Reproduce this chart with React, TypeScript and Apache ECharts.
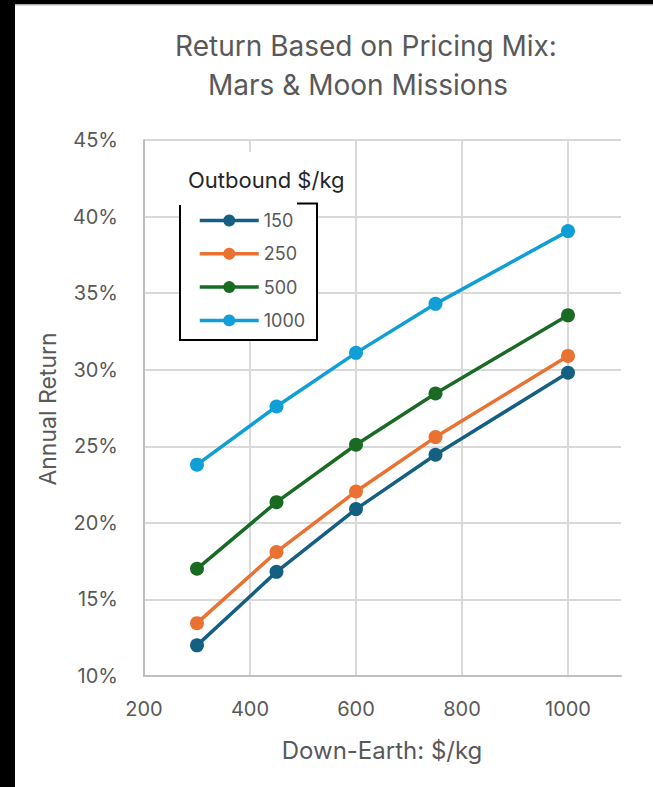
import { useEffect, useRef } from 'react';
import * as echarts from 'echarts';

// Down-Earth price ($/kg) on the x axis
const downEarth = [300, 450, 600, 750, 1000];
// Outbound price ($/kg) series names
const outboundLabels = ['150', '250', '500', '1000'];
// Annual return (%) for each outbound price
const return150 = [12.0, 16.8, 20.9, 24.45, 29.8];
const return250 = [13.45, 18.1, 22.05, 25.6, 30.9];
const return500 = [17.0, 21.35, 25.1, 28.45, 33.55];
const return1000 = [23.8, 27.6, 31.1, 34.3, 39.05];
const seriesValues = [return150, return250, return500, return1000];
// tick labels
const xTickLabels = [200, 400, 600, 800, 1000];
const yTickLabels = [10, 15, 20, 25, 30, 35, 40, 45];

const seriesColors = ['#156082', '#E97132', '#196B24', '#0F9ED5'];
const FONT = 'Inter, "Open Sans", sans-serif';
const GRAY = '#595959';

export default function App() {
  const ref = useRef<HTMLDivElement>(null);

  useEffect(() => {
    if (!ref.current) return;
    const chart = echarts.init(ref.current, undefined, { renderer: 'svg' });

    const series = outboundLabels.map((name, si) => ({
      name,
      type: 'line',
      data: downEarth.map((x, i) => [x, seriesValues[si][i]]),
      symbol: 'circle',
      symbolSize: 14,
      showSymbol: true,
      lineStyle: { width: 3.5, color: seriesColors[si] },
      itemStyle: { color: seriesColors[si] },
      z: 3,
    }));

    chart.setOption({
      animation: false,
      backgroundColor: '#ffffff',
      grid: { left: 144, right: 32, top: 140, bottom: 111 },
      xAxis: {
        type: 'value',
        min: 200,
        max: 1100,
        interval: 200,
        axisLine: { show: true, lineStyle: { color: '#bfbfbf', width: 2 } },
        axisTick: { show: false },
        splitLine: { show: true, showMaxLine: false, lineStyle: { color: '#d9d9d9', width: 2 } },
        axisLabel: {
          formatter: (v: number) => (xTickLabels.includes(v) ? String(v) : ''),
          showMaxLabel: false,
          fontSize: 20,
          color: GRAY,
          fontFamily: FONT,
          margin: 23,
        },
      },
      yAxis: {
        type: 'value',
        min: 10,
        max: 45,
        interval: 5,
        axisLine: { show: true, lineStyle: { color: '#bfbfbf', width: 2 } },
        axisTick: { show: false },
        splitLine: { show: true, lineStyle: { color: '#d9d9d9', width: 2 } },
        axisLabel: {
          formatter: (v: number) => (yTickLabels.includes(v) ? `${v}%` : ''),
          fontSize: 20,
          color: GRAY,
          fontFamily: FONT,
          margin: 26,
        },
      },
      legend: {
        data: outboundLabels,
        orient: 'vertical',
        left: 198,
        top: 211.5,
        itemWidth: 59,
        itemHeight: 15,
        itemGap: 15.3,
        padding: 0,
        lineStyle: { width: 3.5 },
        textStyle: { fontSize: 18, color: GRAY, fontFamily: FONT, lineHeight: 15 },
        z: 6,
      },
      graphic: [
        { type: 'rect', shape: { x: 0, y: 0, width: 15, height: 787 }, style: { fill: '#000' }, z: 20 },
        { type: 'rect', shape: { x: 0, y: 0, width: 653, height: 4.5 }, style: { fill: '#000' }, z: 20 },
        { type: 'rect', shape: { x: 15, y: 4.5, width: 638, height: 1.5 }, style: { fill: '#d9d9d9' }, z: 20 },
        {
          type: 'text',
          x: 366,
          y: 46,
          style: { text: 'Return Based on Pricing Mix:', font: `28px ${FONT}`, fill: GRAY, align: 'center', verticalAlign: 'middle' },
          z: 10,
        },
        {
          type: 'text',
          x: 358,
          y: 85,
          style: { text: 'Mars & Moon Missions', font: `28px ${FONT}`, fill: GRAY, align: 'center', verticalAlign: 'middle' },
          z: 10,
        },
        {
          type: 'text',
          x: 48,
          y: 409,
          rotation: Math.PI / 2,
          style: { text: 'Annual Return', font: `23px ${FONT}`, fill: GRAY, align: 'center', verticalAlign: 'middle' },
          z: 10,
        },
        {
          type: 'text',
          x: 382,
          y: 750,
          style: { text: 'Down-Earth: $/kg', font: `24px ${FONT}`, fill: GRAY, align: 'center', verticalAlign: 'middle' },
          z: 10,
        },
        { type: 'rect', shape: { x: 180, y: 203, width: 137, height: 137 }, style: { fill: '#ffffff' }, z: 1 },
        { type: 'rect', shape: { x: 176, y: 152, width: 121, height: 51 }, style: { fill: '#ffffff' }, z: 1 },
        {
          type: 'polyline',
          shape: { points: [[297, 203.5], [317, 203.5], [317, 340], [180, 340], [180, 205]] },
          style: { stroke: '#000', lineWidth: 2, fill: 'none' },
          z: 10,
        },
        {
          type: 'text',
          x: 188,
          y: 180,
          style: { text: 'Outbound $/kg', font: `22px ${FONT}`, fill: '#262626', align: 'left', verticalAlign: 'middle' },
          z: 10,
        },
      ],
      series,
    });

    return () => chart.dispose();
  }, []);

  return (
    <div
      ref={ref}
      style={{ position: 'fixed', left: 0, top: 0, width: 653, height: 787 }}
    />
  );
}
